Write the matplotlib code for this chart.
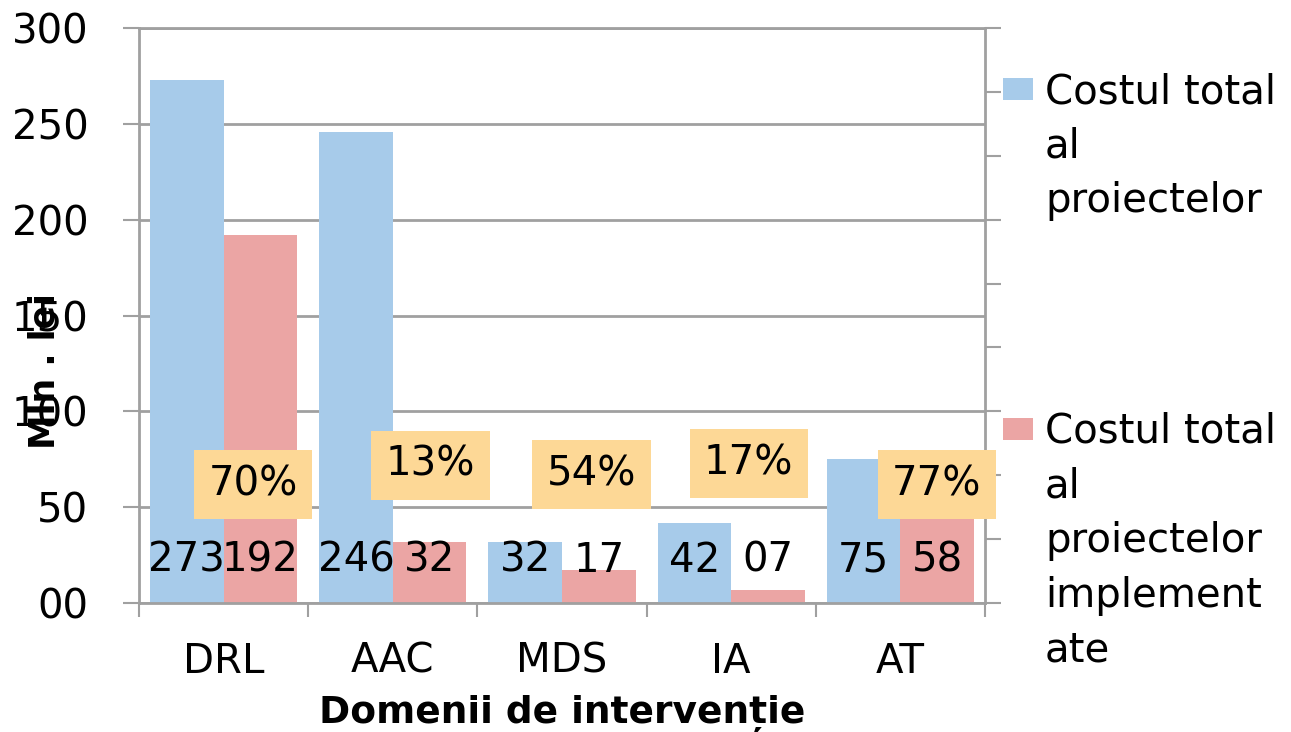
import numpy as np
import matplotlib
matplotlib.use("Agg")
import matplotlib.pyplot as plt
from matplotlib.patches import Rectangle

# ---------------- data ----------------
categories = ["DRL", "AAC", "MDS", "IA", "AT"]
cost_total = [273, 246, 32, 42, 75]
cost_impl = [192, 32, 17, 7, 58]
cost_total_labels = ["273", "246", "32", "42", "75"]
cost_impl_labels = ["192", "32", "17", "07", "58"]
pct_labels = ["70%", "13%", "54%", "17%", "77%"]
ytick_values = [0, 50, 100, 150, 200, 250, 300]
ytick_labels = ["00", "50", "100", "150", "200", "250", "300"]
series_names = ["Costul total\nal\nproiectelor",
                "Costul total\nal\nproiectelor\nimplement\nate"]

# ---------------- layout / style ----------------
W, H = 1291, 732
BLUE = "#A7CBEA"
PINK = "#EBA5A4"
ORANGE = "#FDD896"
GRID = "#A0A0A0"
FONT = "DejaVu Sans"
FS = 29
BAR_W = 0.435
VALUE_LABEL_Y = 22
pct_x_offset = [0.175, 0.222, 0.175, 0.104, 0.216]
pct_y = [61.6, 72.0, 66.8, 73.0, 61.6]

plt.rcParams["font.family"] = [FONT]

fig = plt.figure(figsize=(W / 100, H / 100), dpi=100)
ax = fig.add_axes([139 / W, 1 - 603 / H, (985 - 139) / W, (603 - 28) / H])

n = len(categories)
centers = np.arange(n) + 0.5
ax.bar(centers - BAR_W / 2, cost_total, width=BAR_W, color=BLUE, zorder=2)
ax.bar(centers + BAR_W / 2, cost_impl, width=BAR_W, color=PINK, zorder=2)

for i in range(n):
    ax.text(centers[i] - BAR_W / 2, VALUE_LABEL_Y, cost_total_labels[i],
            ha="center", va="center", fontsize=FS, color="black", zorder=4)
    ax.text(centers[i] + BAR_W / 2, VALUE_LABEL_Y, cost_impl_labels[i],
            ha="center", va="center", fontsize=FS, color="black", zorder=4)

ax.set_xlim(0, n)
ax.set_ylim(0, 300)
ax.set_yticks(ytick_values)
ax.set_yticklabels(ytick_labels, fontsize=FS)
ax.yaxis.grid(True, color=GRID, linewidth=2)
ax.set_axisbelow(True)
ax.tick_params(axis="y", direction="out", length=11.5, width=1.5,
               color=GRID, pad=25)

ax.set_xticks(np.arange(n + 1))
ax.set_xticklabels([])
ax.set_xticks(centers, minor=True)
ax.set_xticklabels(categories, minor=True, fontsize=FS)
ax.tick_params(axis="x", which="major", direction="out", length=10,
               width=1.5, color=GRID)
ax.tick_params(axis="x", which="minor", length=0, pad=28)

for s in ["left", "bottom", "top"]:
    ax.spines[s].set_color(GRID)
    ax.spines[s].set_linewidth(2)
ax.spines["right"].set_visible(False)

ax.set_ylabel("Mln . lei", fontsize=25, fontweight="bold")
ax.yaxis.label.set_va("center")
ax.yaxis.set_label_coords(-0.112, 0.403)
ax.yaxis.label.set_zorder(5)

ax.set_xlabel("Domenii de intervenție", fontsize=27, fontweight="bold")
ax.xaxis.label.set_va("center")
ax.xaxis.set_label_coords(0.5, -0.193)

# secondary axis (unlabelled)
ax2 = ax.twinx()
ax2.set_ylim(0, 0.9)
ax2.set_yticks(np.linspace(0, 0.9, 10))
ax2.set_yticklabels([])
ax2.tick_params(axis="y", direction="out", length=11.5, width=1.5, color=GRID)
for s in ["left", "bottom", "top"]:
    ax2.spines[s].set_visible(False)
ax2.spines["right"].set_color(GRID)
ax2.spines["right"].set_linewidth(2)

# percentage labels
for i in range(n):
    ax2.text(i + 0.5 + pct_x_offset[i], pct_y[i], pct_labels[i],
             transform=ax.transData, ha="center", va="center", fontsize=FS,
             zorder=6, clip_on=False,
             bbox=dict(boxstyle="square,pad=0.36", facecolor=ORANGE,
                       edgecolor="none"))

# legend (built manually so the key aligns with the first text line)
leg_colors = [BLUE, PINK]
leg_text_top = [72, 412]
leg_patch_top = [78, 418]
for c, name, yt, yp in zip(leg_colors, series_names, leg_text_top, leg_patch_top):
    fig.patches.append(Rectangle((1003 / W, 1 - (yp + 22) / H), 30 / W, 22 / H,
                                 transform=fig.transFigure, facecolor=c,
                                 edgecolor="none"))
    fig.text(1045 / W, 1 - yt / H, name, fontsize=FS, ha="left",
             va="top", linespacing=1.47)

fig.savefig("out.png", dpi=100)
